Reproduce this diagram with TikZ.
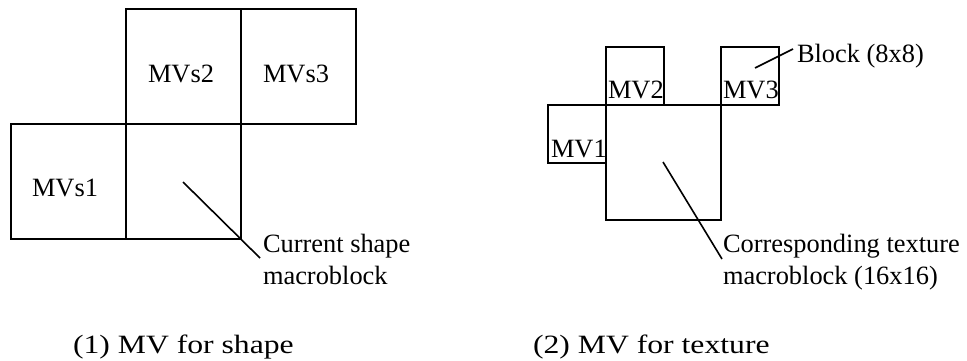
\documentclass[tikz,border=0pt]{standalone}
\usepackage{fontspec}
\usepackage{graphicx}
\setmainfont{Liberation Serif}
\begin{document}
\begin{tikzpicture}[x=1pt,y=-1pt,line width=1.8pt,
  blk/.style={draw,rectangle,inner sep=0pt,outer sep=0pt},
  big/.style={blk,minimum width=115pt,minimum height=115pt},
  small/.style={blk,minimum width=58pt,minimum height=58pt},
  lbl/.style={anchor=base west,inner sep=0pt,outer sep=0pt,font=\fontsize{26.4}{32}\selectfont},
  lead/.style={line width=1.6pt}]
\useasboundingbox (0,0) rectangle (967,360);
% left figure
\node[big] (s1) at (68.5,181.5) {};
\node[big] (cur) at (183.5,181.5) {};
\node[big] (s2) at (183.5,66.5) {};
\node[big] (s3) at (298.5,66.5) {};
\node[lbl] (ts1) at (32,196) {MVs1};
\node[lbl] (ts2) at (148,82) {MVs2};
\node[lbl] (ts3) at (263,82) {MVs3};
\node[lbl] (cur1) at (263,252) {Current shape};
\node[lbl] (cur2) at (263,284) {macroblock};
\coordinate (la) at (183,182);
\coordinate (lb) at (260,258);
\draw[lead] (la) -- (lb);
% right figure
\node[big] (tex) at (663.5,162.5) {};
\node[small] (m1) at (577,134) {};
\node[small] (m2) at (635,76) {};
\node[small] (m3) at (750,76) {};
\node[lbl] (tm1) at (551,157) {MV1};
\node[lbl] (tm2) at (608,98) {MV2};
\node[lbl] (tm3) at (723,98) {MV3};
\node[lbl] (blabel) at (797,62) {Block (8x8)};
\coordinate (ba) at (755,68);
\coordinate (bb) at (793,49);
\draw[lead] (ba) -- (bb);
\node[lbl] (tex1) at (723,252) {Corresponding texture};
\node[lbl] (tex2) at (723,284) {macroblock (16x16)};
\coordinate (ta) at (663,162);
\coordinate (tb) at (722,259);
\draw[lead] (ta) -- (tb);
% captions
\node[lbl] (cap1) at (73,353) {\scalebox{1.2}[1]{(1) MV for shape}};
\node[lbl] (cap2) at (533,353) {\scalebox{1.2}[1]{(2) MV for texture}};
\end{tikzpicture}
\end{document}
